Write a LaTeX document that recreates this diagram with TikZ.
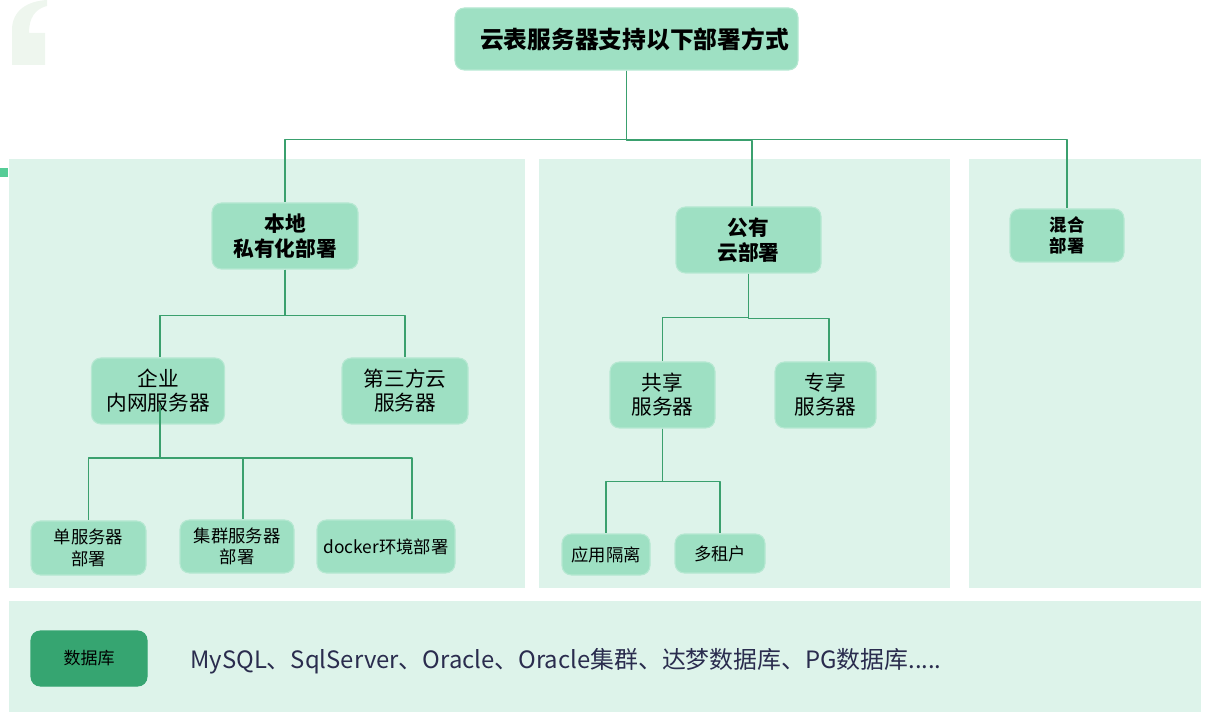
\documentclass[tikz,border=0pt]{standalone}
\usepackage{fontspec}
\setmainfont{Noto Sans CJK SC}
\newcommand{\px}{0.75pt}
\definecolor{boxgreen}{RGB}{158,224,195}
\definecolor{panelgreen}{RGB}{221,243,234}
\definecolor{linkgreen}{RGB}{58,160,110}
\definecolor{dbgreen}{RGB}{54,165,113}
\definecolor{quotegreen}{RGB}{238,246,238}
\definecolor{tabgreen}{RGB}{85,204,150}
\definecolor{navytext}{RGB}{42,44,78}
\tikzset{
  box/.style={fill=boxgreen, draw=boxgreen!75!white, line width=0.8pt, rounded corners=7pt, align=center, inner sep=0pt},
  link/.style={draw=linkgreen, line width=0.8pt},
  titlef/.style={font=\fontsize{17.8pt}{21pt}\selectfont\bfseries},
  headf/.style={font=\fontsize{15.5pt}{18.8pt}\selectfont\bfseries},
  smallheadf/.style={font=\fontsize{13pt}{15.8pt}\selectfont\bfseries},
  midf/.style={font=\fontsize{15.5pt}{18pt}\selectfont},
  leaff/.style={font=\fontsize{13pt}{16pt}\selectfont},
}
\begin{document}
\begin{tikzpicture}[x=0.75pt, y=-0.75pt, line join=round]
\useasboundingbox (0,0) rectangle (1208,720);
% quote mark and tab
\fill[quotegreen] (12,65) -- (12,30) .. controls (12,10) and (28,1) .. (47,0) -- (47,6)
  .. controls (35,9) and (29,18) .. (29,33) -- (45,33) -- (45,65) -- cycle;
\fill[tabgreen] (0,168) rectangle (8,177);
% panels
\fill[panelgreen] (9,159) rectangle (525,588);
\fill[panelgreen] (539,159) rectangle (950,588);
\fill[panelgreen] (969,159) rectangle (1201,588);
\fill[panelgreen] (9,601) rectangle (1201,712);

% nodes
\node[box, titlef, minimum width=343*\px, minimum height=62*\px] (top) at (626.5,39) {\hspace*{12pt}云表服务器支持以下部署方式};
\node[box, headf, minimum width=146*\px, minimum height=66*\px] (bendi) at (285,236) {本地\\私有化部署};
\node[box, headf, minimum width=145*\px, minimum height=66*\px] (gongyou) at (748.5,240) {公有\\云部署};
\node[box, smallheadf, minimum width=114*\px, minimum height=53*\px] (hunhe) at (1067,235.5) {混合\\部署};
\node[box, midf, minimum width=133*\px, minimum height=66*\px] (qiye) at (158,391) {企业\\内网服务器};
\node[box, midf, minimum width=126*\px, minimum height=66*\px] (disanfang) at (405,391) {第三方云\\服务器};
\node[box, leaff, minimum width=115*\px, minimum height=54*\px] (dan) at (88.5,548) {单服务器\\部署};
\node[box, leaff, minimum width=114*\px, minimum height=53*\px] (jiqun) at (237,546.5) {集群服务器\\部署};
\node[box, leaff, minimum width=138*\px, minimum height=53*\px] (docker) at (386,546.5) {docker环境部署};
\node[box, midf, minimum width=105*\px, minimum height=66*\px] (gongxiang) at (662.5,395) {共享\\服务器};
\node[box, midf, minimum width=101*\px, minimum height=66*\px] (zhuanxiang) at (825.5,395) {专享\\服务器};
\node[box, leaff, minimum width=88*\px, minimum height=41*\px] (yingyong) at (606,554.5) {应用隔离};
\node[box, leaff, minimum width=90*\px, minimum height=39*\px] (duozuhu) at (720,553.5) {多租户};
\node[box, fill=dbgreen, draw=dbgreen, font=\fontsize{12.75pt}{15pt}\selectfont, minimum width=116*\px, minimum height=55*\px] (db) at (89,658.5) {数据库};
\node[anchor=west, inner sep=0pt, text=navytext, font=\fontsize{17.9pt}{21pt}\selectfont] (dblist) at (190,661) {MySQL、SqlServer、Oracle、Oracle集群、达梦数据库、PG数据库.....};

% connectors
\draw[link] (top.south) --++(0,69) -| (bendi.north);
\draw[link] (top.south) --++(0,70) -| ([xshift=3.5*\px]gongyou.north);
\draw[link] (top.south) --++(0,69) -| (hunhe.north);
\draw[link] (bendi.south) --++(0,46) -| ([xshift=2*\px]qiye.north);
\draw[link] (bendi.south) --++(0,46) -| (disanfang.north);
\draw[link] ([xshift=2*\px, yshift=-14*\px]qiye.center) --++(0,53) -| (dan.north);
\draw[link] ([xshift=2*\px, yshift=-14*\px]qiye.center) --++(0,53) -| ([xshift=6*\px]jiqun.north);
\draw[link] ([xshift=2*\px, yshift=-14*\px]qiye.center) --++(0,53) -| ([xshift=26*\px]docker.north);
\draw[link] (gongyou.south) --++(0,44) -| (gongxiang.north);
\draw[link] (gongyou.south) --++(0,45) -| ([xshift=3.5*\px]zhuanxiang.north);
\draw[link] (gongxiang.south) --++(0,53) -| (yingyong.north);
\draw[link] (gongxiang.south) --++(0,53) -| (duozuhu.north);
\end{tikzpicture}
\end{document}
